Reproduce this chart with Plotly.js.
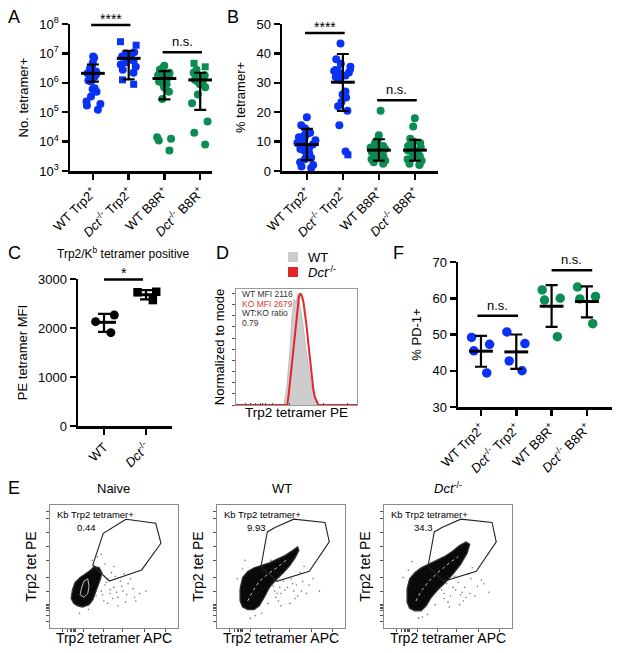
<!DOCTYPE html>
<html><head><meta charset="utf-8">
<script src="https://cdn.plot.ly/plotly-3.0.1.min.js"></script>
<style>html,body{margin:0;padding:0;background:#fff}#chart{width:617px;height:653px}</style>
</head><body><div id="chart"></div>
<script>
// ================= DATA =================
const groupLabels = ['WT Trp2<sup>+</sup>', '<i>Dct</i><sup>-/-</sup> Trp2<sup>+</sup>', 'WT B8R<sup>+</sup>', '<i>Dct</i><sup>-/-</sup> B8R<sup>+</sup>'];
const mfiLabels = ['WT', '<i>Dct</i><sup>-/-</sup>'];

// Panel A: number of tetramer+ cells
const countWtTrp2 = [7.8e6,7.1e6,4.8e6,3.5e6,3.1e6,2.9e6,2.4e6,2.2e6,2.1e6,2.0e6,1.8e6,1.6e6,1.2e6,1.1e6,6.5e5,6.0e5,5.0e5,3.4e5,2.3e5,1.9e5,1.7e5,1.2e5];
const countKoTrp2 = [1.1e7,1.0e7,8.9e6,7.9e6,7.6e6,7.1e6,6.3e6,5.6e6,5.0e6,4.2e6,3.5e6,2.8e6,2.2e6];
const countKoTrp2Sq = [2.5e7,1.9e7,1.26e6,8.9e5];
const countWtB8r = [3.8e6,3.2e6,2.8e6,2.5e6,2.2e6,2.0e6,1.8e6,1.6e6,1.4e6,1.26e6,1.1e6,1.0e6,8.9e5,7.1e5,5.0e5,2.8e5,1.4e4,1.26e4,1.1e4,5.0e3];
const countKoB8r = [2.8e6,2.2e6,1.8e6,1.6e6,1.4e6,1.26e6,1.1e6,1.0e6,8.9e5,7.1e5,4.0e5,2.0e5,4.8e4,2.0e4,7.9e3];
const countKoB8rSq = [4.6e6,3.5e6];
const countMean = [2.1e6,6.8e6,1.4e6,1.25e6];
const countSdHi = [4.2e6,1.23e7,2.5e6,2.2e6];
const countSdLo = [1.1e6,1.3e6,2.75e5,1.2e5];
const countTicks = [1e3,1e4,1e5,1e6,1e7,1e8];
const countTickText = ['10<sup>3</sup>','10<sup>4</sup>','10<sup>5</sup>','10<sup>6</sup>','10<sup>7</sup>','10<sup>8</sup>'];
const sigAFrom = [-0.05, 1.95], sigATo = [1.05, 3.05], sigALevel = [9.3e7, 1.1e7], sigAText = ['****','n.s.'];

// Panel B: % tetramer+
const pctWtTrp2 = [18.3,15.6,14.5,13.5,13,12.5,12,11.5,11,10.5,10,9.5,9,8.5,8,7.5,7,6,5,4.5,4,3,2,1.5,1];
const pctKoTrp2 = [43.4,38,36.5,35.5,34,34,33.5,33,32.5,32,31,27,26,25,23.5,22,20.5,15.6,6.6];
const pctKoTrp2Sq = [35,34.5,5.5];
const pctWtB8r = [20.5,12.2,10.5,9.5,9,8.5,8,8,7.5,7,7,6.5,6,6,5.5,5,4.5,4,3.5,3,2.5];
const pctKoB8r = [17.9,15.1,11,10,9.5,9,8.5,8,7.5,7,7,6.5,6,5.5,5,4.5,4,3.5,2.5,2];
const pctKoB8rSq = [2.7];
const pctMean = [9.0,30.2,7.1,7.1];
const pctSdHi = [14.3,39.8,10.8,10.6];
const pctSdLo = [3.7,20.4,3.5,3.5];
const sigBFrom = [-0.05, 1.95], sigBTo = [1.05, 3.05], sigBLevel = [46.9, 24.1], sigBText = ['****','n.s.'];

// Panel C: PE tetramer MFI
const mfiWt = [2265,2130,1905];
const mfiKo = [2740,2730,2570];
const mfiMean = [2116,2679];
const mfiSdHi = [2290,2775];
const mfiSdLo = [1920,2585];
const sigCFrom = [0], sigCTo = [0.93], sigCLevel = [2990], sigCText = ['*'];

// Panel D: histogram (normalized to mode)
const histWtX = [1.98,2.11,2.23,2.31,2.40,2.48,2.56,2.64,2.77,2.89,3.02,3.14,3.26,3.39];
const histWtY = [0,18,50,78,95,92,100,90,72,50,30,15,6,0];
const histKoX = [0,2.12,2.18,2.23,2.30,2.36,2.41,2.47,2.54,2.60,2.66,2.72,2.79,2.86,2.92,2.99,3.06,3.13,3.19,3.26,3.33,3.40,5];
const histKoY = [0,0,10,20,33,45,56,70,85,97,100,98,92,82,70,55,40,28,15,7,3,0,0];
const histText = ['WT MFI 2116','KO MFI 2679','WT:KO ratio','0.79'];

// Panel F: % PD-1+
const pd1WtTrp2 = [47.3,49.2,45.5,39.4];
const pd1KoTrp2 = [50.7,47.5,42.7,40.0];
const pd1WtB8r = [62.3,60.0,59.5,49.4];
const pd1KoB8r = [63.1,60.5,59.8,53.0];
const pd1Mean = [45.4,45.2,57.8,59.1];
const pd1SdHi = [49.6,50.0,63.6,63.3];
const pd1SdLo = [41.1,40.5,52.1,54.7];
const sigFFrom = [-0.1, 2.0], sigFTo = [1.05, 3.15], sigFLevel = [55.2, 67.7], sigFText = ['n.s.','n.s.'];

// Panel E: flow plots (relative display units 0-100)
const flowTitles = ['Naive','WT','<i>Dct</i><sup>-/-</sup>'];
const flowGateLabel = 'Kb Trp2 tetramer+';
const flowGatePct = ['0.44','9.93','34.3'];
const gateNaiveX = [59.4,82.6,86.7,71.6,46.3,33.4,41.6,59.4];
const gateNaiveY = [88.4,85.1,68.9,47.2,38.2,51.2,77.0,88.4];
const gateX = [34.4,39.3,45.3,60,84.4,87.7,72.1,46.6,34.4];
const gateY = [50.2,78.1,81.7,88.5,85.8,70,46.1,38,50.2];
const cloudNaiveX = [17.5,16.5,18.5,21.5,25.5,30.5,33.5,35.5,37.5,39.5,40.5,38.5,34.5,31.5,27.5,23.5,19.5,17.5];
const cloudNaiveY = [31,24,20,18,17,19,23,29,35,40,45,49,50,47,44,41,37,31];
const contourNaiveX = [23.5,26.5,29.5,30.5,29.5,26.5,24.5,23.5];
const contourNaiveY = [27,25,28,34,40,38,32,27];
const cloudWtX = [18,18,20,24,29,33,37,41,46,52,57,61,64,63,59,53,47,41,35,29,24,20,18];
const cloudWtY = [32,22,17,15,15,18,25,33,39,45,51,57,63,66,63,59,56,53,51,49,46,41,32];
const contourWtX = [24,28,33,40,48,55];
const contourWtY = [22,30,38,44,50,56];
const cloudKoX = [18,18,20,24,29,33,37,42,48,54,60,65,67,64,59,53,47,41,35,29,24,20,18];
const cloudKoY = [32,21,16,14,14,18,25,31,37,44,52,61,68,70,67,62,58,55,52,49,45,40,32];
const contourKoX = [25,29,35,42,50,58];
const contourKoY = [22,30,38,45,52,58];
const dotsNaiveX = [40,43,47,50,45,53,57,42,48,55,60,65,39,35,33,37,30,23,45,51,61,70,43,50,40,67,75,58,53,36,44,49,56,63,47,52,41,38,59,66];
const dotsNaiveY = [30,35,28,33,40,25,30,22,45,38,27,32,45,50,55,58,15,12,20,42,36,28,52,50,60,22,30,44,18,26,37,24,34,40,31,29,27,39,21,25];
const dotsWtX = [45,50,55,60,48,52,58,62,66,70,40,35,30,42,38,65,72,75,68,55,20,22,16,26,50,80,46,57,63,44,53,59,49,67,61,47];
const dotsWtY = [30,28,33,30,22,38,40,35,30,28,20,12,10,55,52,45,35,40,50,55,48,55,40,8,18,30,25,20,26,34,31,36,33,38,24,28];
const dotsKoX = [47,52,56,61,50,58,63,67,71,40,34,30,44,66,73,76,69,56,19,22,15,27,51,82,47,59,64,42,55,78,54,60,49,68,62,45];
const dotsKoY = [28,26,31,29,21,37,33,28,26,19,11,9,56,44,34,39,49,56,47,54,41,8,17,29,24,19,25,33,42,36,33,27,36,40,22,31];

// ================= BUILD =================
const FONT = 'Liberation Sans, Arial, Helvetica, sans-serif';
const BLUE = '#0a32f5', GREEN = '#0b8c52', RED = '#e3262b';
const X = px => px / 617, Y = py => 1 - py / 653;

function dots(vals, pos, color, sym, xa, ya, size, width, jit) {
  return {type:'box', x0:pos, y:vals, xaxis:xa, yaxis:ya, boxpoints:'all', jitter:jit, pointpos:0,
    width:width, line:{width:0, color:'rgba(0,0,0,0)'}, fillcolor:'rgba(0,0,0,0)', whiskerwidth:0,
    marker:{color:color, size:size, symbol:sym, line:{width:0}}, hoverinfo:'y', showlegend:false};
}
function meanSd(means, hi, lo, xa, ya, barSize) {
  return {type:'scatter', mode:'markers', x:means.map((m,i)=>i), y:means, xaxis:xa, yaxis:ya, showlegend:false,
    marker:{symbol:'line-ew', size:barSize, color:'black', line:{width:3, color:'black'}},
    error_y:{type:'data', symmetric:false, array:hi.map((h,i)=>h-means[i]), arrayminus:lo.map((l,i)=>means[i]-l),
      color:'black', thickness:2.2, width:6}};
}

const traces = [];
// A
traces.push(dots(countWtTrp2,0,BLUE,'circle','x','y',8,0.6,0.9));
traces.push(dots(countKoTrp2,1,BLUE,'circle','x','y',8,0.6,0.9));
traces.push(dots(countKoTrp2Sq,1,BLUE,'square','x','y',7,0.6,0.9));
traces.push(dots(countWtB8r,2,GREEN,'circle','x','y',8,0.6,0.9));
traces.push(dots(countKoB8r,3,GREEN,'circle','x','y',8,0.6,0.9));
traces.push(dots(countKoB8rSq,3,GREEN,'square','x','y',7,0.6,0.9));
// B
traces.push(dots(pctWtTrp2,0,BLUE,'circle','x2','y2',8,0.6,0.9));
traces.push(dots(pctKoTrp2,1,BLUE,'circle','x2','y2',8,0.6,0.9));
traces.push(dots(pctKoTrp2Sq,1,BLUE,'square','x2','y2',7,0.6,0.9));
traces.push(dots(pctWtB8r,2,GREEN,'circle','x2','y2',8,0.6,0.9));
traces.push(dots(pctKoB8r,3,GREEN,'circle','x2','y2',8,0.6,0.9));
traces.push(dots(pctKoB8rSq,3,GREEN,'square','x2','y2',7,0.6,0.9));
// C
traces.push(dots(mfiWt,0,'black','circle','x3','y3',9,0.7,0.9));
traces.push(dots(mfiKo,1,'black','square','x3','y3',8.5,0.7,0.9));
// F
traces.push(dots(pd1WtTrp2,0,BLUE,'circle','x5','y5',9.5,0.7,0.9));
traces.push(dots(pd1KoTrp2,1,BLUE,'circle','x5','y5',9.5,0.7,0.9));
traces.push(dots(pd1WtB8r,2,GREEN,'circle','x5','y5',9.5,0.7,0.9));
traces.push(dots(pd1KoB8r,3,GREEN,'circle','x5','y5',9.5,0.7,0.9));
// mean +/- SD
traces.push(meanSd(countMean,countSdHi,countSdLo,'x','y',17));
traces.push(meanSd(pctMean,pctSdHi,pctSdLo,'x2','y2',17));
traces.push(meanSd(mfiMean,mfiSdHi,mfiSdLo,'x3','y3',17));
traces.push(meanSd(pd1Mean,pd1SdHi,pd1SdLo,'x5','y5',17));
// D histogram
traces.push({type:'scatter', mode:'lines', x:histWtX, y:histWtY, xaxis:'x4', yaxis:'y4', fill:'toself',
  fillcolor:'#cdcdcd', line:{color:'#b5b5b5', width:0.8}, showlegend:false, hoverinfo:'skip'});
traces.push({type:'scatter', mode:'lines', x:histKoX, y:histKoY, xaxis:'x4', yaxis:'y4',
  line:{color:RED, width:2}, showlegend:false, hoverinfo:'skip'});
// E flow plots
const flowSets = [
  {xa:'x6', ya:'y6', dx:dotsNaiveX, dy:dotsNaiveY, cx:cloudNaiveX, cy:cloudNaiveY, wx:contourNaiveX, wy:contourNaiveY, gx:gateNaiveX, gy:gateNaiveY, closed:true},
  {xa:'x7', ya:'y7', dx:dotsWtX, dy:dotsWtY, cx:cloudWtX, cy:cloudWtY, wx:contourWtX, wy:contourWtY, gx:gateX, gy:gateY, closed:false},
  {xa:'x8', ya:'y8', dx:dotsKoX, dy:dotsKoY, cx:cloudKoX, cy:cloudKoY, wx:contourKoX, wy:contourKoY, gx:gateX, gy:gateY, closed:false}
];
flowSets.forEach(s => {
  traces.push({type:'scatter', mode:'markers', x:s.dx, y:s.dy, xaxis:s.xa, yaxis:s.ya, marker:{size:1.6, color:'#777'}, showlegend:false, hoverinfo:'skip'});
  traces.push({type:'scatter', mode:'lines', x:s.cx, y:s.cy, xaxis:s.xa, yaxis:s.ya, fill:'toself', fillcolor:'#0a0a0a',
    line:{color:'#333', width:1.2}, showlegend:false, hoverinfo:'skip'});
  traces.push({type:'scatter', mode:'lines', x:s.wx, y:s.wy, xaxis:s.xa, yaxis:s.ya,
    line:{color:'#eee', width:0.8, dash: s.closed ? 'solid' : 'dot'}, showlegend:false, hoverinfo:'skip'});
  traces.push({type:'scatter', mode:'lines', x:s.gx, y:s.gy, xaxis:s.xa, yaxis:s.ya, line:{color:'#222', width:1.1}, showlegend:false, hoverinfo:'skip'});
});

// ================= LAYOUT =================
const tickFont = {family:FONT, size:13, color:'black'};
const dotAxis = {showline:true, linewidth:2.5, linecolor:'black', ticks:'outside', ticklen:6, tickwidth:2.5, tickcolor:'black',
  showgrid:false, zeroline:false, tickfont:tickFont, fixedrange:true};
const titleFont = {family:FONT, size:13, color:'black'};
const flowX = d => ({domain:d, range:[0,100], showline:true, mirror:true, linecolor:'#8a8a8a', linewidth:1, ticks:'outside', ticklen:3,
  tickcolor:'#555', tickwidth:1, tickvals:[10,14,16,17,18,19,20,26,42,57,74,90], showticklabels:false, showgrid:false, zeroline:false,
  title:{text:'Trp2 tetramer APC', font:{family:FONT, size:14, color:'black'}, standoff:2}});
const flowY = (d, a) => ({domain:d, anchor:a, range:[0,100], showline:true, mirror:true, linecolor:'#8a8a8a', linewidth:1, ticks:'outside', ticklen:3,
  tickcolor:'#555', tickwidth:1, tickvals:[5,10,14,16,17,18,19,30,41,55,66,78,89,95], showticklabels:false, showgrid:false, zeroline:false,
  title:{text:'Trp2 tet PE', font:{family:FONT, size:14, color:'black'}, standoff:6}});

const yDomAB = [Y(171), Y(24)];
const layout = {
  width:617, height:653, margin:{l:0,r:0,t:0,b:0}, paper_bgcolor:'white', plot_bgcolor:'rgba(0,0,0,0)',
  font:{family:FONT, color:'black'}, showlegend:false,
  xaxis: Object.assign({}, dotAxis, {domain:[X(70),X(212)], anchor:'y', range:[-0.64,3.33], tickvals:[0,1,2,3], ticktext:groupLabels, tickangle:-45}),
  yaxis: Object.assign({}, dotAxis, {domain:yDomAB, anchor:'x', type:'log', range:[3,8], tickvals:countTicks, ticktext:countTickText,
    title:{text:'No. tetramer+', font:titleFont, standoff:8}}),
  xaxis2: Object.assign({}, dotAxis, {domain:[X(282),X(438)], anchor:'y2', range:[-0.69,3.64], tickvals:[0,1,2,3], ticktext:groupLabels, tickangle:-45}),
  yaxis2: Object.assign({}, dotAxis, {domain:yDomAB, anchor:'x2', range:[0,50], dtick:10,
    title:{text:'% tetramer+', font:titleFont, standoff:8}}),
  xaxis3: Object.assign({}, dotAxis, {domain:[X(78),X(172)], anchor:'y3', range:[-0.62,1.62], tickvals:[0,1], ticktext:mfiLabels, tickangle:-45}),
  yaxis3: Object.assign({}, dotAxis, {domain:[Y(426),Y(279)], anchor:'x3', range:[0,3000], dtick:1000,
    title:{text:'PE tetramer MFI', font:titleFont, standoff:8}}),
  xaxis4: {domain:[X(236),X(357)], anchor:'y4', range:[0,5], showline:true, mirror:true, linecolor:'#9a9a9a', linewidth:1,
    ticks:'inside', ticklen:2, tickcolor:'#555', tickvals:[0.4,0.6,0.8,1.0,1.1,1.2,1.5,2.2,3.6,4.6], showticklabels:false,
    showgrid:false, zeroline:false, title:{text:'Trp2 tetramer PE', font:{family:FONT, size:13.5, color:'black'}, standoff:2}},
  yaxis4: {domain:[Y(405),Y(289)], anchor:'x4', range:[0,104], showline:true, mirror:true, linecolor:'#9a9a9a', linewidth:1,
    ticks:'outside', ticklen:3, tickcolor:'#555', dtick:10, showticklabels:false, showgrid:false, zeroline:false,
    title:{text:'Normalized to mode', font:titleFont, standoff:4}},
  xaxis5: Object.assign({}, dotAxis, {domain:[X(458),X(612)], anchor:'y5', range:[-0.65,3.71], tickvals:[0,1,2,3], ticktext:groupLabels, tickangle:-45}),
  yaxis5: Object.assign({}, dotAxis, {domain:[Y(407),Y(262)], anchor:'x5', range:[30,70], dtick:10,
    title:{text:'% PD-1+', font:titleFont, standoff:8}}),
  xaxis6: Object.assign(flowX([X(50),X(178)]), {anchor:'y6'}),
  yaxis6: flowY([Y(628),Y(505)], 'x6'),
  xaxis7: Object.assign(flowX([X(217),X(345)]), {anchor:'y7'}),
  yaxis7: flowY([Y(628),Y(505)], 'x7'),
  xaxis8: Object.assign(flowX([X(384),X(512)]), {anchor:'y8'}),
  yaxis8: flowY([Y(628),Y(505)], 'x8'),
  shapes: [], annotations: []
};

// significance bars; vertical level given as fraction of the y-axis domain so log axes work too
function addSig(from, to, level, text, xr, yr, yrange, isLog) {
  from.forEach((f,i) => {
    const v = isLog ? Math.log10(level[i]) : level[i];
    const frac = (v - yrange[0]) / (yrange[1] - yrange[0]);
    layout.shapes.push({type:'line', xref:xr, yref:yr + ' domain', x0:f, x1:to[i], y0:frac, y1:frac, line:{color:'black', width:2.5}});
    const star = text[i].indexOf('*') >= 0;
    layout.annotations.push({xref:xr, yref:yr + ' domain', x:(f+to[i])/2, y:frac, text:text[i], showarrow:false,
      xanchor:'center', yanchor:'bottom', yshift: star ? -4 : 1, font:{family:FONT, size: star ? 14 : 13, color:'black'}});
  });
}
addSig(sigAFrom, sigATo, sigALevel, sigAText, 'x', 'y', [3,8], true);
addSig(sigBFrom, sigBTo, sigBLevel, sigBText, 'x2', 'y2', [0,50], false);
addSig(sigCFrom, sigCTo, sigCLevel, sigCText, 'x3', 'y3', [0,3000], false);
addSig(sigFFrom, sigFTo, sigFLevel, sigFText, 'x5', 'y5', [30,70], false);

const paperText = (txt, px, py, size, opts) => layout.annotations.push(Object.assign({xref:'paper', yref:'paper', x:X(px), y:Y(py), text:txt,
  showarrow:false, xanchor:'center', yanchor:'middle', font:{family:FONT, size:size, color:'black'}}, opts || {}));
// panel letters
[['A',14,17],['B',233,17],['C',14,253],['D',222,253],['F',398,253],['E',14,488]].forEach(l => paperText(l[0], l[1], l[2], 18));
// C title
paperText('Trp2/K<sup>b</sup> tetramer positive', 123, 253, 12);
// D legend
layout.shapes.push({type:'rect', xref:'paper', yref:'paper', x0:X(288), x1:X(298), y0:Y(262), y1:Y(252), fillcolor:'#cccccc', line:{width:0}});
layout.shapes.push({type:'rect', xref:'paper', yref:'paper', x0:X(288), x1:X(298), y0:Y(277), y1:Y(267), fillcolor:RED, line:{width:0}});
paperText('WT', 306, 257, 13, {xanchor:'left'});
paperText('<i>Dct</i><sup>-/-</sup>', 306, 272, 13, {xanchor:'left'});
// D inner text
const histColors = ['#333','#d9373b','#333','#333'];
histText.forEach((t,i) => paperText(t, 240, 294 + i*9.7, 8.5, {xanchor:'left', font:{family:FONT, size:8.5, color:histColors[i]}}));
// E titles
[[flowTitles[0],113],[flowTitles[1],282],[flowTitles[2],448]].forEach(t => paperText(t[0], t[1], 488, 13));
// E gate labels
const gateLblPos = [[55,514,87,527],[222,514,256,527],[389,514,423,527]];
gateLblPos.forEach((p,i) => {
  paperText(flowGateLabel, p[0], p[1], 9.5, {xanchor:'left'});
  paperText(flowGatePct[i], p[2], p[3], 9.5);
});

Plotly.newPlot('chart', traces, layout, {staticPlot:true, displayModeBar:false});
</script>
</body></html>
